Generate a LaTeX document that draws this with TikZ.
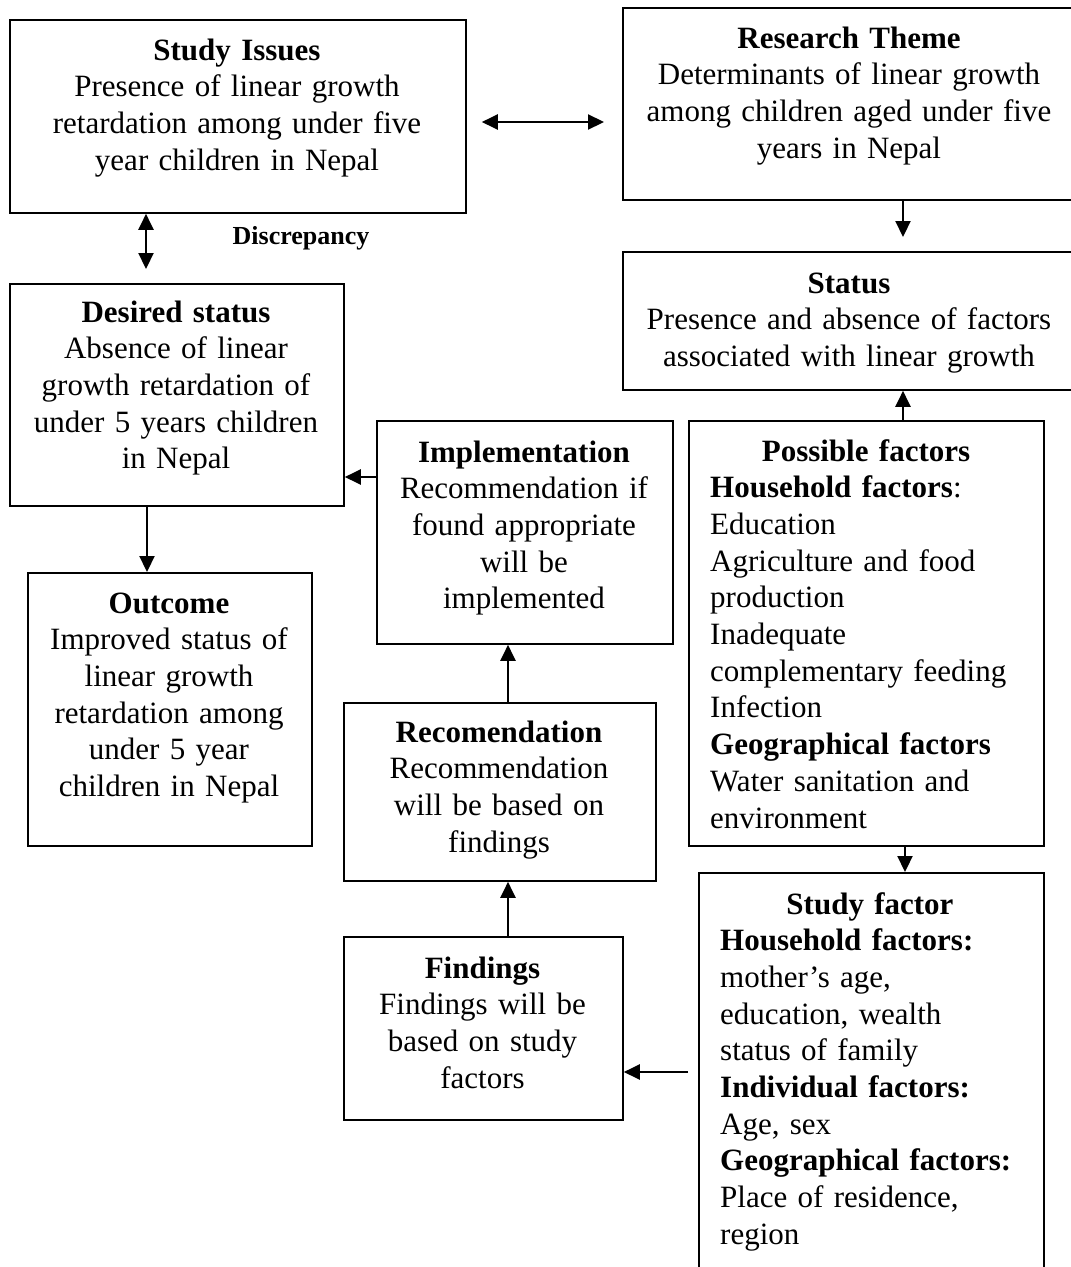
\documentclass[tikz,border=0pt]{standalone}
\usepackage{fontspec}
\setmainfont{Liberation Serif}
\usetikzlibrary{arrows.meta}
\begin{document}
\begin{tikzpicture}[x=1pt,y=-1pt,
  box/.style={draw, line width=1.8pt, inner sep=0pt, anchor=north west},
  txt/.style={inner sep=0pt, anchor=base, align=center, font=\fontsize{31}{36.7}\selectfont},
  ltxt/.style={inner sep=0pt, anchor=base west, align=left, font=\fontsize{31}{36.7}\selectfont},
  arr/.style={line width=2.2pt, -{Triangle[length=16pt,width=15pt]}},
  darr/.style={line width=2.2pt, {Triangle[length=16pt,width=15pt]}-{Triangle[length=16pt,width=15pt]}},
]
\useasboundingbox (0,0) rectangle (1071,1267);
\fill[white] (0,0) rectangle (1071,1267);
\clip (0,0) rectangle (1071,1267);

% boxes
\node[box, minimum width=456pt, minimum height=193pt] (si) at (9,19) {};
\node[box, minimum width=460pt, minimum height=192pt] (rt) at (622,7) {};
\node[box, minimum width=460pt, minimum height=138pt] (st) at (622,251) {};
\node[box, minimum width=334pt, minimum height=222pt] (ds) at (9,283) {};
\node[box, minimum width=284pt, minimum height=273pt] (oc) at (27,572) {};
\node[box, minimum width=296pt, minimum height=223pt] (im) at (376,420) {};
\node[box, minimum width=355pt, minimum height=425pt] (pf) at (688,420) {};
\node[box, minimum width=312pt, minimum height=178pt] (rc) at (343,702) {};
\node[box, minimum width=279pt, minimum height=183pt] (fd) at (343,936) {};
\node[box, minimum width=345pt, minimum height=430pt] (sf) at (698,872) {};

% texts
\node[txt, text width=450pt] (sit) at (237,60) {\textbf{Study Issues}\\Presence of linear growth\\retardation among under five\\year children in Nepal};
\node[txt, text width=450pt] (rtt) at (849,48) {\textbf{Research Theme}\\Determinants of linear growth\\among children aged under five\\years in Nepal};
\node[txt, text width=450pt] (stt) at (849,293) {\textbf{Status}\\Presence and absence of factors\\associated with linear growth};
\node[txt, text width=330pt] (dst) at (176,322) {\textbf{Desired status}\\Absence of linear\\growth retardation of\\under 5 years children\\in Nepal};
\node[txt, text width=280pt] (oct) at (169,613) {\textbf{Outcome}\\Improved status of\\linear growth\\retardation among\\under 5 year\\children in Nepal};
\node[txt, text width=292pt] (imt) at (524,462) {\textbf{Implementation}\\Recommendation if\\found appropriate\\will be\\implemented};
\node[txt, text width=350pt] (pft) at (866,461) {\textbf{Possible factors}};
\node[ltxt, text width=330pt] (pfb) at (710,497.7) {\textbf{Household factors}:\\Education\\Agriculture and food\\production\\Inadequate\\complementary feeding\\Infection\\\textbf{Geographical factors}\\Water sanitation and\\environment};
\node[txt, text width=308pt] (rct) at (499,742) {\textbf{Recomendation}\\Recommendation\\will be based on\\findings};
\node[txt, text width=275pt] (fdt) at (482.5,978) {\textbf{Findings}\\Findings will be\\based on study\\factors};
\node[txt, text width=340pt] (sft) at (870,914) {\textbf{Study factor}};
\node[ltxt, text width=320pt] (sfb) at (720,950.7) {\textbf{Household factors:}\\mother’s age,\\education, wealth\\status of family\\\textbf{Individual factors:}\\Age, sex\\\textbf{Geographical factors:}\\Place of residence,\\region};
\node[inner sep=0pt, anchor=base, font=\fontsize{26}{30}\selectfont\bfseries] (disc) at (301,244) {Discrepancy};

% connectors
\draw[darr] ([xshift=15pt,yshift=-103pt]si.north east) -- ([xshift=-18pt,yshift=-115pt]rt.north west);
\draw[darr] ([xshift=137pt]si.south west) -- ([xshift=137pt,yshift=14pt]ds.north west);
\draw[arr] ([xshift=281pt]rt.south west) -- ([xshift=281pt,yshift=14pt]st.north west);
\draw[arr] ([xshift=215pt]pf.north west) -- ([xshift=281pt]st.south west);
\draw[arr] ([xshift=138pt]ds.south west) -- ([xshift=120pt]oc.north west);
\draw[arr] ([yshift=-57pt]im.north west) -- ([yshift=-194pt]ds.north east);
\draw[arr] ([xshift=165pt]rc.north west) -- ([xshift=132pt]im.south west);
\draw[arr] ([xshift=165pt]fd.north west) -- ([xshift=165pt]rc.south west);
\draw[arr] ([xshift=217pt]pf.south west) -- ([xshift=207pt]sf.north west);
\draw[arr] ([xshift=-10pt,yshift=-200pt]sf.north west) -- ([yshift=-136pt]fd.north east);
\end{tikzpicture}
\end{document}
